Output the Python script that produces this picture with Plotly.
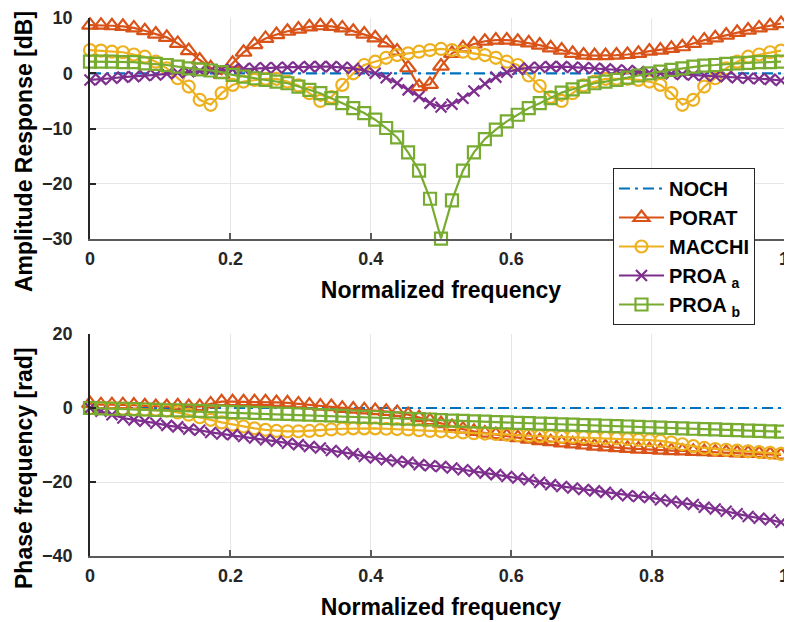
import plotly.graph_objects as go

# ---------------- data ----------------
freq = [k / 64 for k in range(64)]

noch_amp = [0.0] * 64
porat_amp = [8.7, 8.7, 8.6, 8.5, 8.2, 7.7, 7.1, 6.5, 5.4, 4.1, 2.4, 1.0, -0.2, 1.8, 3.8, 5.2,
             6.3, 7.0, 7.6, 8.0, 8.4, 8.6, 8.5, 8.2, 7.6, 7.1, 6.4, 5.5, 4.0, 1.0, -2.4, -2.0,
             1.3, 3.6, 4.6, 5.3, 5.8, 6.0, 6.0, 5.8, 5.5, 5.1, 4.6, 4.2, 3.6, 3.3, 3.2, 3.2,
             3.3, 3.4, 3.6, 4.0, 4.2, 4.5, 4.8, 5.4, 6.0, 6.4, 6.9, 7.4, 7.8, 8.2, 8.6, 9.0]
macchi_amp = [4.2, 4.1, 3.9, 3.8, 3.4, 3.0, 2.1, 0.9, -0.9, -2.4, -4.8, -5.7, -3.6, -2.1, -1.5, -1.2,
              -1.0, -1.0, -1.5, -2.2, -3.6, -5.0, -4.3, -2.1, 0.0, 1.5, 2.1, 2.8, 3.3, 3.6, 3.9, 4.2,
              4.4, 4.2, 3.9, 3.6, 3.3, 2.8, 2.1, 1.5, -0.4, -2.3, -4.3, -5.0, -3.6, -2.2, -1.5, -1.0,
              -1.0, -1.0, -1.2, -1.5, -2.1, -3.6, -5.7, -4.8, -2.4, -0.9, 0.9, 2.1, 3.0, 3.4, 3.8, 4.1]
proa_a_amp = [-1.2, -1.1, -0.9, -0.7, -0.6, -0.4, -0.3, -0.1, 0.1, 0.3, 0.4, 0.5, 0.6, 0.7, 0.8, 0.9,
              1.0, 1.0, 1.1, 1.1, 1.2, 1.2, 1.2, 1.1, 0.9, 0.5, 0.0, -0.8, -1.8, -3.0, -4.2, -5.4,
              -6.1, -5.6, -4.5, -3.2, -1.9, -0.7, 0.2, 0.7, 1.0, 1.1, 1.2, 1.2, 1.1, 1.0, 0.9, 0.8,
              0.6, 0.5, 0.3, 0.1, 0.0, -0.1, -0.2, -0.3, -0.4, -0.5, -0.6, -0.8, -0.9, -1.0, -1.1, -1.3]
proa_b_amp = [2.1, 2.1, 2.1, 2.0, 2.0, 1.8, 1.7, 1.5, 1.2, 0.9, 0.7, 0.5, 0.2, -0.3, -0.6, -0.9,
              -1.2, -1.5, -1.8, -2.4, -3.0, -3.6, -4.5, -5.4, -6.3, -7.2, -8.4, -9.9, -11.6, -14.3, -17.6, -22.7,
              -29.9, -23.0, -17.6, -14.3, -11.9, -10.2, -8.7, -7.5, -6.3, -5.4, -4.5, -3.5, -2.9, -2.4, -1.8, -1.5,
              -1.2, -0.8, -0.4, 0.0, 0.3, 0.6, 0.9, 1.2, 1.4, 1.5, 1.7, 1.8, 1.9, 2.0, 2.0, 2.1]

noch_ph = [0.0] * 64
porat_ph = [1.2, 0.9, 0.9, 0.9, 0.8, 0.6, 0.4, 0.4, 0.6, 0.4, 0.4, 1.1, 1.7, 1.7, 1.7, 1.7,
            1.7, 1.5, 1.4, 1.1, 0.8, 0.5, 0.4, -0.1, -0.3, -0.5, -0.7, -0.9, -1.2, -1.8, -2.6, -3.4,
            -4.2, -5.0, -5.7, -6.3, -6.8, -7.2, -7.6, -8.0, -8.4, -8.8, -9.1, -9.4, -9.7, -10.0, -10.3, -10.5,
            -10.7, -10.9, -11.1, -11.2, -11.4, -11.5, -11.6, -11.7, -11.8, -11.9, -12.0, -12.1, -12.2, -12.3, -12.5, -12.7]
macchi_ph = [0.0, 0.0, -0.1, -0.2, -0.3, -0.4, -0.5, -0.7, -1.2, -1.8, -2.5, -3.2, -3.9, -4.5, -5.0, -5.5,
             -5.9, -6.2, -6.3, -6.3, -6.2, -6.0, -5.8, -5.6, -5.5, -5.5, -5.5, -5.6, -5.7, -5.8, -6.0, -6.2,
             -6.3, -6.5, -6.6, -6.8, -6.9, -7.0, -7.2, -7.3, -7.5, -7.6, -7.7, -7.8, -7.8, -7.9, -8.0, -8.1,
             -8.2, -8.4, -8.6, -8.7, -8.9, -9.3, -9.8, -10.3, -10.8, -11.1, -11.3, -11.5, -11.7, -11.9, -12.1, -12.4]
proa_a_ph = [0.0, -0.9, -1.8, -2.7, -3.2, -3.6, -4.1, -4.7, -5.1, -5.7, -6.0, -6.6, -7.0, -7.2, -7.7, -8.1,
             -8.6, -9.0, -9.5, -9.9, -10.4, -10.8, -11.5, -11.9, -12.4, -13.1, -13.5, -14.0, -14.4, -14.7, -15.3, -15.6,
             -15.8, -16.2, -16.7, -17.1, -17.6, -18.0, -18.5, -18.9, -19.4, -20.1, -20.7, -21.2, -21.6, -22.0, -22.4, -22.8,
             -23.3, -23.7, -23.9, -24.2, -24.8, -25.2, -25.7, -26.1, -26.8, -27.3, -27.9, -28.6, -29.3, -29.8, -30.2, -30.9]
proa_b_ph = [0.0, -0.1, -0.2, -0.2, -0.3, -0.4, -0.5, -0.6, -0.6, -0.7, -0.8, -0.9, -1.0, -1.1, -1.2, -1.3,
             -1.4, -1.5, -1.6, -1.7, -1.8, -1.9, -2.0, -2.1, -2.3, -2.4, -2.5, -2.7, -2.8, -2.9, -3.0, -3.1,
             -3.3, -3.4, -3.5, -3.6, -3.7, -3.8, -3.9, -4.0, -4.1, -4.2, -4.3, -4.4, -4.5, -4.6, -4.7, -4.8,
             -4.9, -5.0, -5.1, -5.2, -5.3, -5.4, -5.5, -5.6, -5.7, -5.8, -5.9, -6.0, -6.1, -6.2, -6.3, -6.4]

names = ["NOCH", "PORAT", "MACCHI", "PROA <sub>a</sub>", "PROA <sub>b</sub>"]
amp_series = [noch_amp, porat_amp, macchi_amp, proa_a_amp, proa_b_amp]
ph_series = [noch_ph, porat_ph, macchi_ph, proa_a_ph, proa_b_ph]

x_ticks = [0, 0.2, 0.4, 0.6, 0.8, 1]
x_tick_text = ["0", "0.2", "0.4", "0.6", "0.8", ""]
last_x_label = "1"   # drawn right-aligned at the page edge
amp_ticks = [10, 0, -10, -20, -30]
ph_ticks = [20, 0, -20, -40]

# ---------------- styles ----------------
colors = ["#0072BD", "#D95319", "#EDB120", "#7E2F8E", "#77AC30"]
symbols = [None, "triangle-up-open", "circle-open", "x-thin-open", "square-open"]
msizes = [0, 14, 12, 11, 12]
FONT = "Liberation Sans, Arial, Helvetica, sans-serif"

fig = go.Figure()


def add_series(xs, ys, i, xa, ya, show):
    if i == 0:
        fig.add_trace(go.Scatter(
            x=xs, y=ys, mode="lines", name=names[i], legendgroup=names[i], showlegend=show,
            line=dict(color=colors[i], width=2.2, dash="11px,5px,3px,5px"),
            xaxis=xa, yaxis=ya, cliponaxis=False))
    else:
        fig.add_trace(go.Scatter(
            x=xs, y=ys, mode="lines+markers", name=names[i], legendgroup=names[i], showlegend=show,
            line=dict(color=colors[i], width=2.2),
            marker=dict(symbol=symbols[i], size=msizes[i], color=colors[i],
                        line=dict(width=2.2, color=colors[i])),
            xaxis=xa, yaxis=ya, cliponaxis=False))


for i in range(5):
    add_series(freq, amp_series[i], i, "x", "y", True)
for i in range(5):
    add_series(freq, ph_series[i], i, "x2", "y2", False)

tickfont = dict(family=FONT, size=18, color="#262626", weight="bold")
titlefont = dict(family=FONT, size=23, color="#000000", weight="bold")

xcommon = dict(range=[0, 1], tickvals=x_ticks, ticktext=x_tick_text, showgrid=True,
               gridcolor="#e6e6e6", gridwidth=1, zeroline=False, showline=True,
               linecolor="#5a5a5a", linewidth=2, ticks="inside", ticklen=6, tickwidth=1.5,
               tickcolor="#5a5a5a", tickfont=tickfont, ticklabelstandoff=2, automargin=False,
               ticklabeloverflow="allow")
ycommon = dict(showgrid=True, gridcolor="#e6e6e6", gridwidth=1, zeroline=False, showline=True,
               linecolor="#262626", linewidth=1.5, ticks="inside", ticklen=6, tickwidth=1.5,
               tickcolor="#262626", tickfont=tickfont, ticklabelstandoff=12, automargin=False,
               ticklabeloverflow="allow")

PLOT_H = 538.0  # plot area height in px (figure y 10..548)
TOP_DOMAIN = [0.589, 1]
BOT_DOMAIN = [0, 0.4126]

# The page body has an 8px margin, so the figure is 8px smaller and offset.
fig.update_layout(
    width=784, height=614,
    margin=dict(l=82, r=0, t=10, b=66),
    paper_bgcolor="white", plot_bgcolor="white",
    font=dict(family=FONT),
    xaxis=dict(xcommon, domain=[0, 1], anchor="y",
               title=dict(text="Normalized frequency", font=titlefont, standoff=14)),
    yaxis=dict(ycommon, domain=TOP_DOMAIN, anchor="x", range=[-30, 10], tickvals=amp_ticks),
    xaxis2=dict(xcommon, domain=[0, 1], anchor="y2",
                title=dict(text="Normalized frequency", font=titlefont, standoff=14)),
    yaxis2=dict(ycommon, domain=BOT_DOMAIN, anchor="x2", range=[-40, 20], tickvals=ph_ticks),
    legend=dict(x=0.745, y=(548 - 160) / PLOT_H, xanchor="left", yanchor="top",
                bgcolor="white", bordercolor="#262626", borderwidth=1,
                font=dict(family=FONT, size=20, color="#000000", weight="bold"),
                itemwidth=45, tracegroupgap=0),
    showlegend=True,
)

# right-most x tick label of each axis, kept inside the page
for dom in (TOP_DOMAIN, BOT_DOMAIN):
    fig.add_annotation(text=last_x_label, xref="paper", yref="paper", x=1, y=dom[0],
                       xanchor="right", yanchor="top", xshift=-1, yshift=-8,
                       showarrow=False, font=tickfont)

fig.add_annotation(text="Amplitude Response [dB]", textangle=-90, xref="paper", yref="paper",
                   x=0, y=(548 - 144) / PLOT_H, xshift=-66, showarrow=False,
                   font=titlefont, xanchor="center", yanchor="middle")
fig.add_annotation(text="Phase frequency [rad]", textangle=-90, xref="paper", yref="paper",
                   x=0, y=(548 - 460) / PLOT_H, xshift=-66, showarrow=False,
                   font=titlefont, xanchor="center", yanchor="middle")

fig.write_html("out.html")
